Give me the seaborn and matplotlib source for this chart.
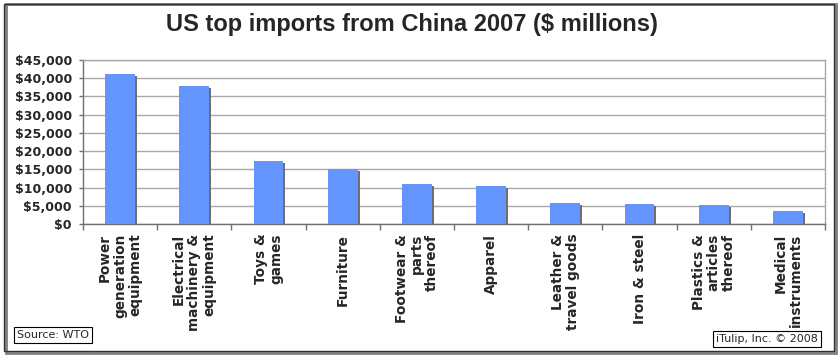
import numpy as np
import pandas as pd
import seaborn as sns
from matplotlib import pyplot as plt
from matplotlib import patheffects as pe
from matplotlib.patches import Rectangle
from matplotlib.ticker import FuncFormatter, MultipleLocator

categories = ['Power\ngeneration\nequipment', 'Electrical\nmachinery &\nequipment', 'Toys &\ngames',
              'Furniture', 'Footwear &\nparts\nthereof', 'Apparel', 'Leather &\ntravel goods',
              'Iron & steel', 'Plastics &\narticles\nthereof', 'Medical\ninstruments']
imports = [41100, 37800, 17200, 15200, 11100, 10500, 5750, 5550, 5270, 3600]

df = pd.DataFrame({'cat': categories, 'val': imports})

sns.set_style('white')
plt.rcParams['font.family'] = ['DejaVu Sans']

W, H = 839, 357
fig = plt.figure(figsize=(W / 100, H / 100), dpi=100)
ax = fig.add_axes([83 / W, 1 - 224 / H, (825 - 83) / W, (224 - 60) / H])

sns.barplot(data=df, x='cat', y='val', color='#6495ff', saturation=1, width=0.4,
            edgecolor='none', ax=ax, zorder=3)
for p in ax.patches:
    p.set_path_effects([pe.SimplePatchShadow(offset=(1.5, -1.5), shadow_rgbFace='#6e6e6e', alpha=1),
                        pe.Normal()])

ax.set_ylim(0, 45000)
ax.set_xlim(-0.5, len(categories) - 0.5)
ax.yaxis.set_major_locator(MultipleLocator(5000))
ax.yaxis.set_major_formatter(FuncFormatter(lambda v, _: f'${v:,.0f}'))
ax.grid(axis='y', color='#a8a8a8', lw=1, zorder=0)
ax.set_xlabel('')
ax.set_ylabel('')

for side in ['left', 'bottom']:
    ax.spines[side].set_color('#707070')
    ax.spines[side].set_linewidth(1)
for side in ['top', 'right']:
    ax.spines[side].set_color('#a8a8a8')
    ax.spines[side].set_linestyle((0, (1, 1)))
    ax.spines[side].set_linewidth(1)

ax.tick_params(axis='y', left=True, length=3, width=1, color='#707070', pad=5,
               labelsize=9)
for t in ax.get_yticklabels():
    t.set_fontweight('bold')

ax.set_xticks(np.arange(len(categories)))
ax.set_xticklabels(categories, rotation=90, ha='center', va='top', fontsize=9.8,
                   fontweight='bold', multialignment='right', linespacing=1.1)
ax.set_xticks(np.arange(-0.5, len(categories), 1), minor=True)
ax.tick_params(axis='x', which='major', length=0, pad=7)
ax.tick_params(axis='x', which='minor', bottom=True, length=4, width=1, color='#707070')

fig.text(412 / W, 1 - 25 / H, 'US top imports from China 2007 ($ millions)',
         ha='center', va='center', fontsize=17, fontweight='bold', family='Liberation Sans')

box = dict(boxstyle='square,pad=0.25', fc='white', ec='black', lw=0.8)
fig.text(17 / W, 1 - 335 / H, 'Source: WTO', ha='left', va='center', fontsize=8, bbox=box)
fig.text(818 / W, 1 - 339 / H, 'iTulip, Inc. \u00a9 2008', ha='right', va='center',
         fontsize=8, bbox=box)

fig.patches.append(Rectangle((6 / W, 1 - 353 / H), 830 / W, 349 / H, transform=fig.transFigure,
                             fill=False, ec='#808080', lw=2))
fig.patches.append(Rectangle((4 / W, 1 - 351 / H), 830 / W, 347 / H, transform=fig.transFigure,
                             fill=False, ec='#303030', lw=1))

fig.savefig('out.png', dpi=100)
